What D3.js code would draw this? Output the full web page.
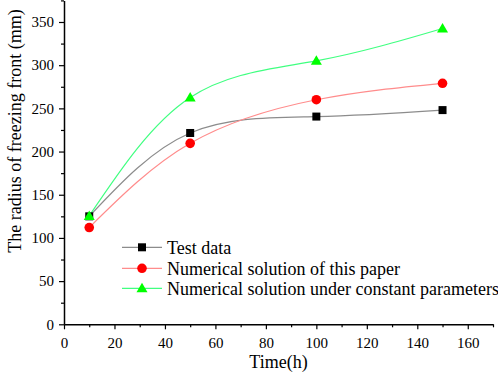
<!DOCTYPE html>
<html><head><meta charset="utf-8">
<script src="https://cdn.jsdelivr.net/npm/d3@7"></script>
<style>body{margin:0;background:#fff}svg{display:block}text{font-family:"Liberation Serif","Times New Roman",serif;fill:#000}</style>
</head><body><svg id="c" width="498" height="376"></svg>
<script>
const times = [10, 50, 100, 150];
const testData = [125, 221.5, 240.5, 248];
const numPaper = [112, 209.5, 260, 279];
const numConst = [125.5, 262.5, 305, 342.5];
const xTicks = [0, 20, 40, 60, 80, 100, 120, 140, 160];
const yTicks = [0, 50, 100, 150, 200, 250, 300, 350];
const seriesNames = ["Test data", "Numerical solution of this paper", "Numerical solution under constant parameters"];

const FONT = "Liberation Serif, Times New Roman, serif";
const svg = d3.select("#c");
const x = d3.scaleLinear().domain([0, 170]).range([64, 493]);
const y = d3.scaleLinear().domain([0, 375]).range([324.3, 0.4]);

const series = [
  {name: seriesNames[0], vals: testData, line: "#8c8c8c", mark: "#000000", shape: "square"},
  {name: seriesNames[1], vals: numPaper, line: "#ff8c8c", mark: "#ff0000", shape: "circle"},
  {name: seriesNames[2], vals: numConst, line: "#40ff80", mark: "#00ff00", shape: "triangle"}
];

function marker(g, shape, color, cx, cy) {
  if (shape === "square") g.append("rect").attr("x", cx-4).attr("y", cy-4).attr("width", 8).attr("height", 8).attr("fill", color);
  else if (shape === "circle") g.append("circle").attr("cx", cx).attr("cy", cy).attr("r", 4.8).attr("fill", color);
  else g.append("path").attr("d", `M${cx},${cy-5.5}L${cx+5.5},${cy+4}L${cx-5.5},${cy+4}Z`).attr("fill", color);
}

const line = d3.line().x((d,i)=>x(times[i])).y(d=>y(d)).curve(d3.curveNatural);
series.forEach(s => {
  svg.append("path").attr("d", line(s.vals)).attr("fill","none").attr("stroke", s.line).attr("stroke-width", 1.2);
});
series.forEach(s => {
  s.vals.forEach((v,i)=> marker(svg, s.shape, s.mark, x(times[i]), y(v)));
});

// axes
const xAxis = svg.append("g").attr("transform", "translate(0,324.3)")
  .call(d3.axisBottom(x).tickValues(d3.range(0, 171, 10)).tickSize(4).tickSizeOuter(0)
    .tickFormat(d => xTicks.includes(d) ? d : ""));
xAxis.selectAll(".tick line").attr("y2", d => xTicks.includes(d) ? 5 : 3);
const yAxis = svg.append("g").attr("transform", "translate(64,0)")
  .call(d3.axisLeft(y).tickValues(d3.range(0, 376, 25)).tickSize(4).tickSizeOuter(0)
    .tickFormat(d => yTicks.includes(d) ? d : ""));
yAxis.selectAll(".tick line").attr("x2", d => yTicks.includes(d) ? -5 : -3);
[xAxis, yAxis].forEach(a => {
  a.attr("font-family", FONT);
  a.select(".domain").attr("stroke", "#000").attr("stroke-width", 1.5);
  a.selectAll(".tick line").attr("stroke", "#000").attr("stroke-width", 1.2);
  a.selectAll("text").attr("font-size", 15).attr("font-family", FONT);
});
xAxis.selectAll("text").attr("y", 23.7).attr("dy", 0);
yAxis.selectAll("text").attr("x", -10);

svg.append("text").attr("x", 278.5).attr("y", 368).attr("text-anchor","middle").attr("font-size", 18).attr("font-family", FONT).text("Time(h)");
svg.append("text").attr("transform", "translate(21,131) rotate(-90)").attr("text-anchor","middle").attr("font-size", 18).attr("font-family", FONT).text("The radius of freezing front (mm)");

// legend
const ly = [247.3, 268.3, 288.3];
series.forEach((s,i) => {
  const g = svg.append("g");
  g.append("line").attr("x1", 122).attr("x2", 162).attr("y1", ly[i]).attr("y2", ly[i]).attr("stroke", s.line).attr("stroke-width", 1.2);
  marker(g, s.shape, s.mark, 142, ly[i]);
  g.append("text").attr("x", 167).attr("y", ly[i]).attr("dy", "0.35em").attr("font-size", 18).attr("font-family", FONT).text(s.name);
});
</script></body></html>
